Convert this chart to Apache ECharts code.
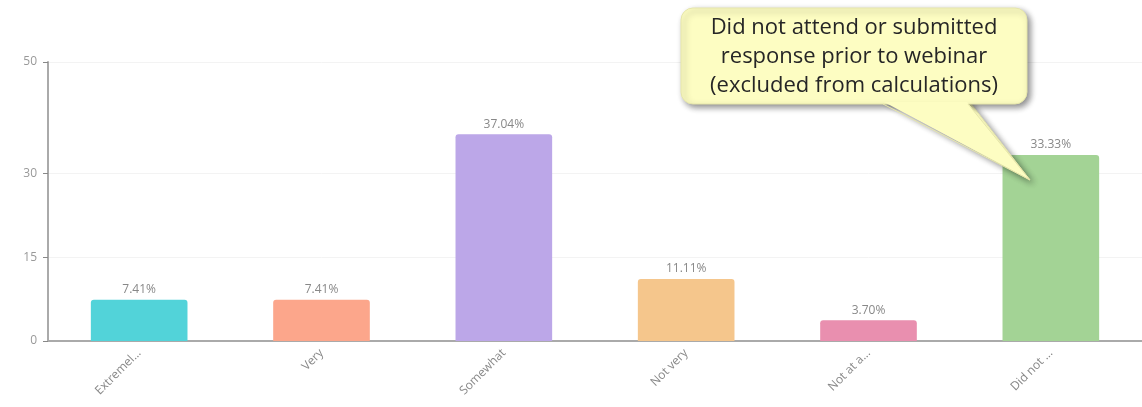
<!DOCTYPE html>
<html><head><meta charset="utf-8">
<script src="https://cdn.jsdelivr.net/npm/echarts@6/dist/echarts.min.js"></script>
<style>html,body{margin:0;padding:0;background:#fff}#c{width:1142px;height:407px}</style>
</head><body><div id="c"></div>
<script>
const categories = ["Extremely", "Very", "Somewhat", "Not very", "Not at all", "Did not attend"];
const values = [7.41, 7.41, 37.04, 11.11, 3.70, 33.33];
const barColors = ["#52d3d9", "#fca68b", "#bca7e8", "#f5c68c", "#e98faf", "#a3d395"];
const yTicks = [0, 15, 30, 50];
const calloutLines = ["Did not attend or submitted", "response prior to webinar", "(excluded from calculations)"];

const chart = echarts.init(document.getElementById('c'), null, {renderer: 'canvas'});
const font = "'Open Sans', 'Noto Sans', sans-serif";
const fill = '#fdfdc2', stroke = '#e6e6aa';
const shadow = {shadowBlur: 6, shadowColor: 'rgba(0,0,0,0.45)', shadowOffsetX: 3, shadowOffsetY: 3};
chart.setOption({
  animation: false,
  grid: {left: 48, right: 0, top: 62, bottom: 66, containLabel: false},
  xAxis: {
    type: 'category', data: categories,
    axisLine: {lineStyle: {color: '#aaaaaa', width: 2}},
    axisTick: {alignWithLabel: true, length: 6, lineStyle: {color: '#888'}},
    axisLabel: {rotate: 45, color: '#888', fontFamily: font, fontSize: 12, margin: 10,
      formatter: v => v.length > 8 ? v.slice(0, 8) + '...' : v}
  },
  yAxis: {
    type: 'value', min: 0, max: 50,
    axisLine: {show: true, lineStyle: {color: '#aaaaaa', width: 2}},
    axisTick: {show: true, length: 5, lineStyle: {color: '#888'}, customValues: yTicks},
    axisLabel: {color: '#999', fontFamily: font, fontSize: 12, margin: 11, customValues: yTicks},
    splitLine: {show: true, lineStyle: {color: '#f3f3f3'}}
  },
  series: [{
    type: 'bar', barWidth: '53%',
    data: values.map((v, i) => ({value: v, itemStyle: {color: barColors[i], borderRadius: [3, 3, 0, 0]}})),
    label: {show: true, position: 'top', color: '#888', fontFamily: font, fontSize: 12, distance: 4,
      formatter: p => p.value.toFixed(2) + '%'}
  }],
  graphic: [
    {type: 'polygon', z: 100, shape: {points: [[883, 100], [968, 100], [1030, 180]]},
     style: Object.assign({fill: fill, stroke: stroke, lineWidth: 1}, shadow)},
    {type: 'rect', z: 101, shape: {x: 681, y: 8, width: 346, height: 96, r: 12},
     style: Object.assign({fill: fill, stroke: stroke, lineWidth: 1}, shadow)},
    {type: 'polygon', z: 102, shape: {points: [[884, 102], [967, 102], [1029, 179]]},
     style: {fill: fill, stroke: null}},
    {type: 'polyline', z: 102, shape: {points: [[883, 104], [1030, 180], [968, 104]]},
     style: {stroke: stroke, lineWidth: 1, fill: null}},
    {type: 'text', z: 103, left: 854 - 170, top: 13,
     style: {text: calloutLines.join('\n'), width: 340, x: 170, textAlign: 'center', fill: '#262626',
       font: "22px " + font, lineHeight: 29}}
  ]
});
</script></body></html>
